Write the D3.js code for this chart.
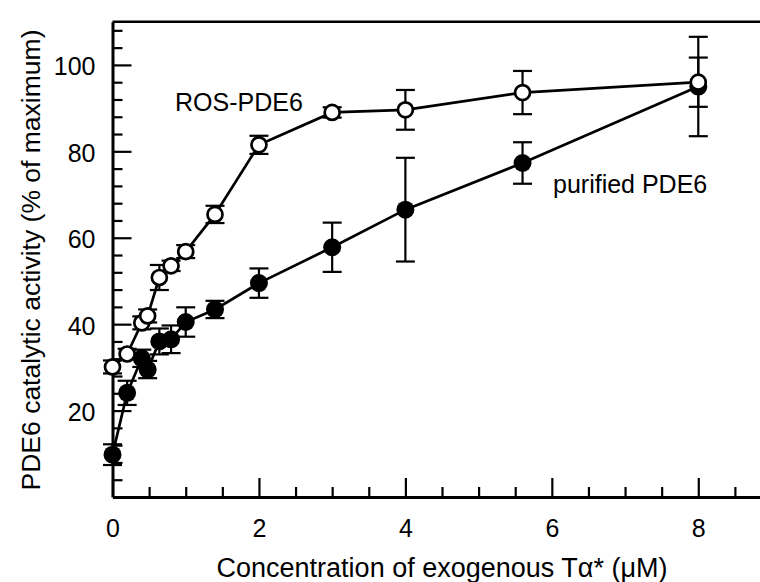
<!DOCTYPE html>
<html>
<head>
<meta charset="utf-8">
<script src="https://cdn.jsdelivr.net/npm/d3@7"></script>
<style>
  body { margin: 0; background: #fff; }
  svg text { font-family: "Liberation Sans", Arial, sans-serif; fill: #000; }
</style>
</head>
<body>
<div id="chart"></div>
<script>
// concentration of exogenous Ta* (uM)
var conc = [0, 0.2, 0.4, 0.48, 0.64, 0.8, 1.0, 1.4, 2, 3, 4, 5.6, 8];

// ROS-PDE6 (open circles)
var rosMean = [30.1, 33.1, 40.3, 41.9, 50.8, 53.5, 56.8, 65.4, 81.5, 89.0, 89.6, 93.6, 96.0];
var rosErr  = [1.5, 1.2, 1.5, 1.5, 2.9, 1.2, 1.5, 2.0, 2.1, 1.2, 4.6, 5.0, 5.7];

// purified PDE6 (filled circles)
var purMean = [9.8, 24.1, 32.1, 29.5, 36.0, 36.5, 40.5, 43.4, 49.5, 57.8, 66.5, 77.3, 95.0];
var purErr  = [2.4, 2.8, 2.0, 2.0, 3.0, 3.2, 3.4, 2.0, 3.4, 5.7, 12.0, 4.8, 11.5];

var xMajor = [0, 2, 4, 6, 8];
var yMajor = [20, 40, 60, 80, 100];

var width = 760, height = 582;
var svg = d3.select("#chart").append("svg")
    .attr("width", width)
    .attr("height", height);

var x = d3.scaleLinear().domain([0, 9]).range([112.5, 771.5]);
var y = d3.scaleLinear().domain([0, 110]).range([497, 21.7]);

var fs = 25;

// minor ticks
var xMinor = d3.range(0, 9.01, 0.5).filter(d => d % 2 !== 0);
var yMinor = d3.range(0, 110.01, 4).filter(d => d % 20 !== 0);

svg.append("g")
    .attr("transform", "translate(0," + y(0) + ")")
    .call(d3.axisBottom(x).tickValues(xMinor).tickSize(-10).tickSizeOuter(0).tickFormat(""))
    .call(g => g.select(".domain").remove());

svg.append("g")
    .attr("transform", "translate(" + x(0) + ",0)")
    .call(d3.axisLeft(y).tickValues(yMinor).tickSize(-10).tickSizeOuter(0).tickFormat(""))
    .call(g => g.select(".domain").remove());

var xAxis = svg.append("g")
    .attr("transform", "translate(0," + y(0) + ")")
    .call(d3.axisBottom(x).tickValues(xMajor).tickSize(-19).tickSizeOuter(0).tickPadding(22));

var yAxis = svg.append("g")
    .attr("transform", "translate(" + x(0) + ",0)")
    .call(d3.axisLeft(y).tickValues(yMajor).tickSize(-19).tickSizeOuter(0).tickPadding(17));

svg.selectAll(".tick line").attr("stroke", "#000").attr("stroke-width", 2.2);
svg.selectAll(".domain").attr("stroke", "#000").attr("stroke-width", 3);
svg.selectAll(".tick text").style("font-size", fs + "px");
yAxis.selectAll(".tick text").attr("dy", "0.40em");

// top frame line
svg.append("line")
    .attr("x1", x(0)).attr("x2", x(9))
    .attr("y1", y(110)).attr("y2", y(110))
    .attr("stroke", "#000").attr("stroke-width", 2.5);

// axis titles
svg.append("text")
    .attr("x", 442).attr("y", 577)
    .attr("text-anchor", "middle")
    .style("font-size", "27px")
    .text("Concentration of exogenous T\u03b1* (\u03bcM)");

svg.append("text")
    .attr("transform", "translate(40,260)rotate(-90)")
    .attr("text-anchor", "middle")
    .style("font-size", "26.5px")
    .text("PDE6 catalytic activity (% of maximum)");

var ros = conc.map((c, i) => ({x: c, y: rosMean[i], e: rosErr[i]}));
var pur = conc.map((c, i) => ({x: c, y: purMean[i], e: purErr[i]}));

var line = d3.line().x(d => x(d.x)).y(d => y(d.y));

[pur, ros].forEach(function (data) {
    svg.append("path")
        .datum(data)
        .attr("d", line)
        .attr("fill", "none")
        .attr("stroke", "#000")
        .attr("stroke-width", 2.7);

    var eb = svg.append("g").selectAll("g").data(data).enter().append("g")
        .attr("stroke", "#000").attr("stroke-width", 2.2);
    eb.append("line")
        .attr("x1", d => x(d.x)).attr("x2", d => x(d.x))
        .attr("y1", d => y(d.y - d.e)).attr("y2", d => y(d.y + d.e));
    eb.append("line")
        .attr("x1", d => x(d.x) - 9.5).attr("x2", d => x(d.x) + 9.5)
        .attr("y1", d => y(d.y + d.e)).attr("y2", d => y(d.y + d.e));
    eb.append("line")
        .attr("x1", d => x(d.x) - 9.5).attr("x2", d => x(d.x) + 9.5)
        .attr("y1", d => y(d.y - d.e)).attr("y2", d => y(d.y - d.e));
});

svg.append("g").selectAll("circle").data(pur).enter().append("circle")
    .attr("cx", d => x(d.x)).attr("cy", d => y(d.y))
    .attr("r", 9)
    .attr("fill", "#000");

svg.append("g").selectAll("circle").data(ros).enter().append("circle")
    .attr("cx", d => x(d.x)).attr("cy", d => y(d.y))
    .attr("r", 7.5)
    .attr("fill", "#fff")
    .attr("stroke", "#000")
    .attr("stroke-width", 2.7);

// series labels
svg.append("text")
    .attr("x", 175).attr("y", 111)
    .style("font-size", "25px")
    .text("ROS-PDE6");

svg.append("text")
    .attr("x", 553).attr("y", 193)
    .style("font-size", "25px")
    .text("purified PDE6");
</script>
</body>
</html>
